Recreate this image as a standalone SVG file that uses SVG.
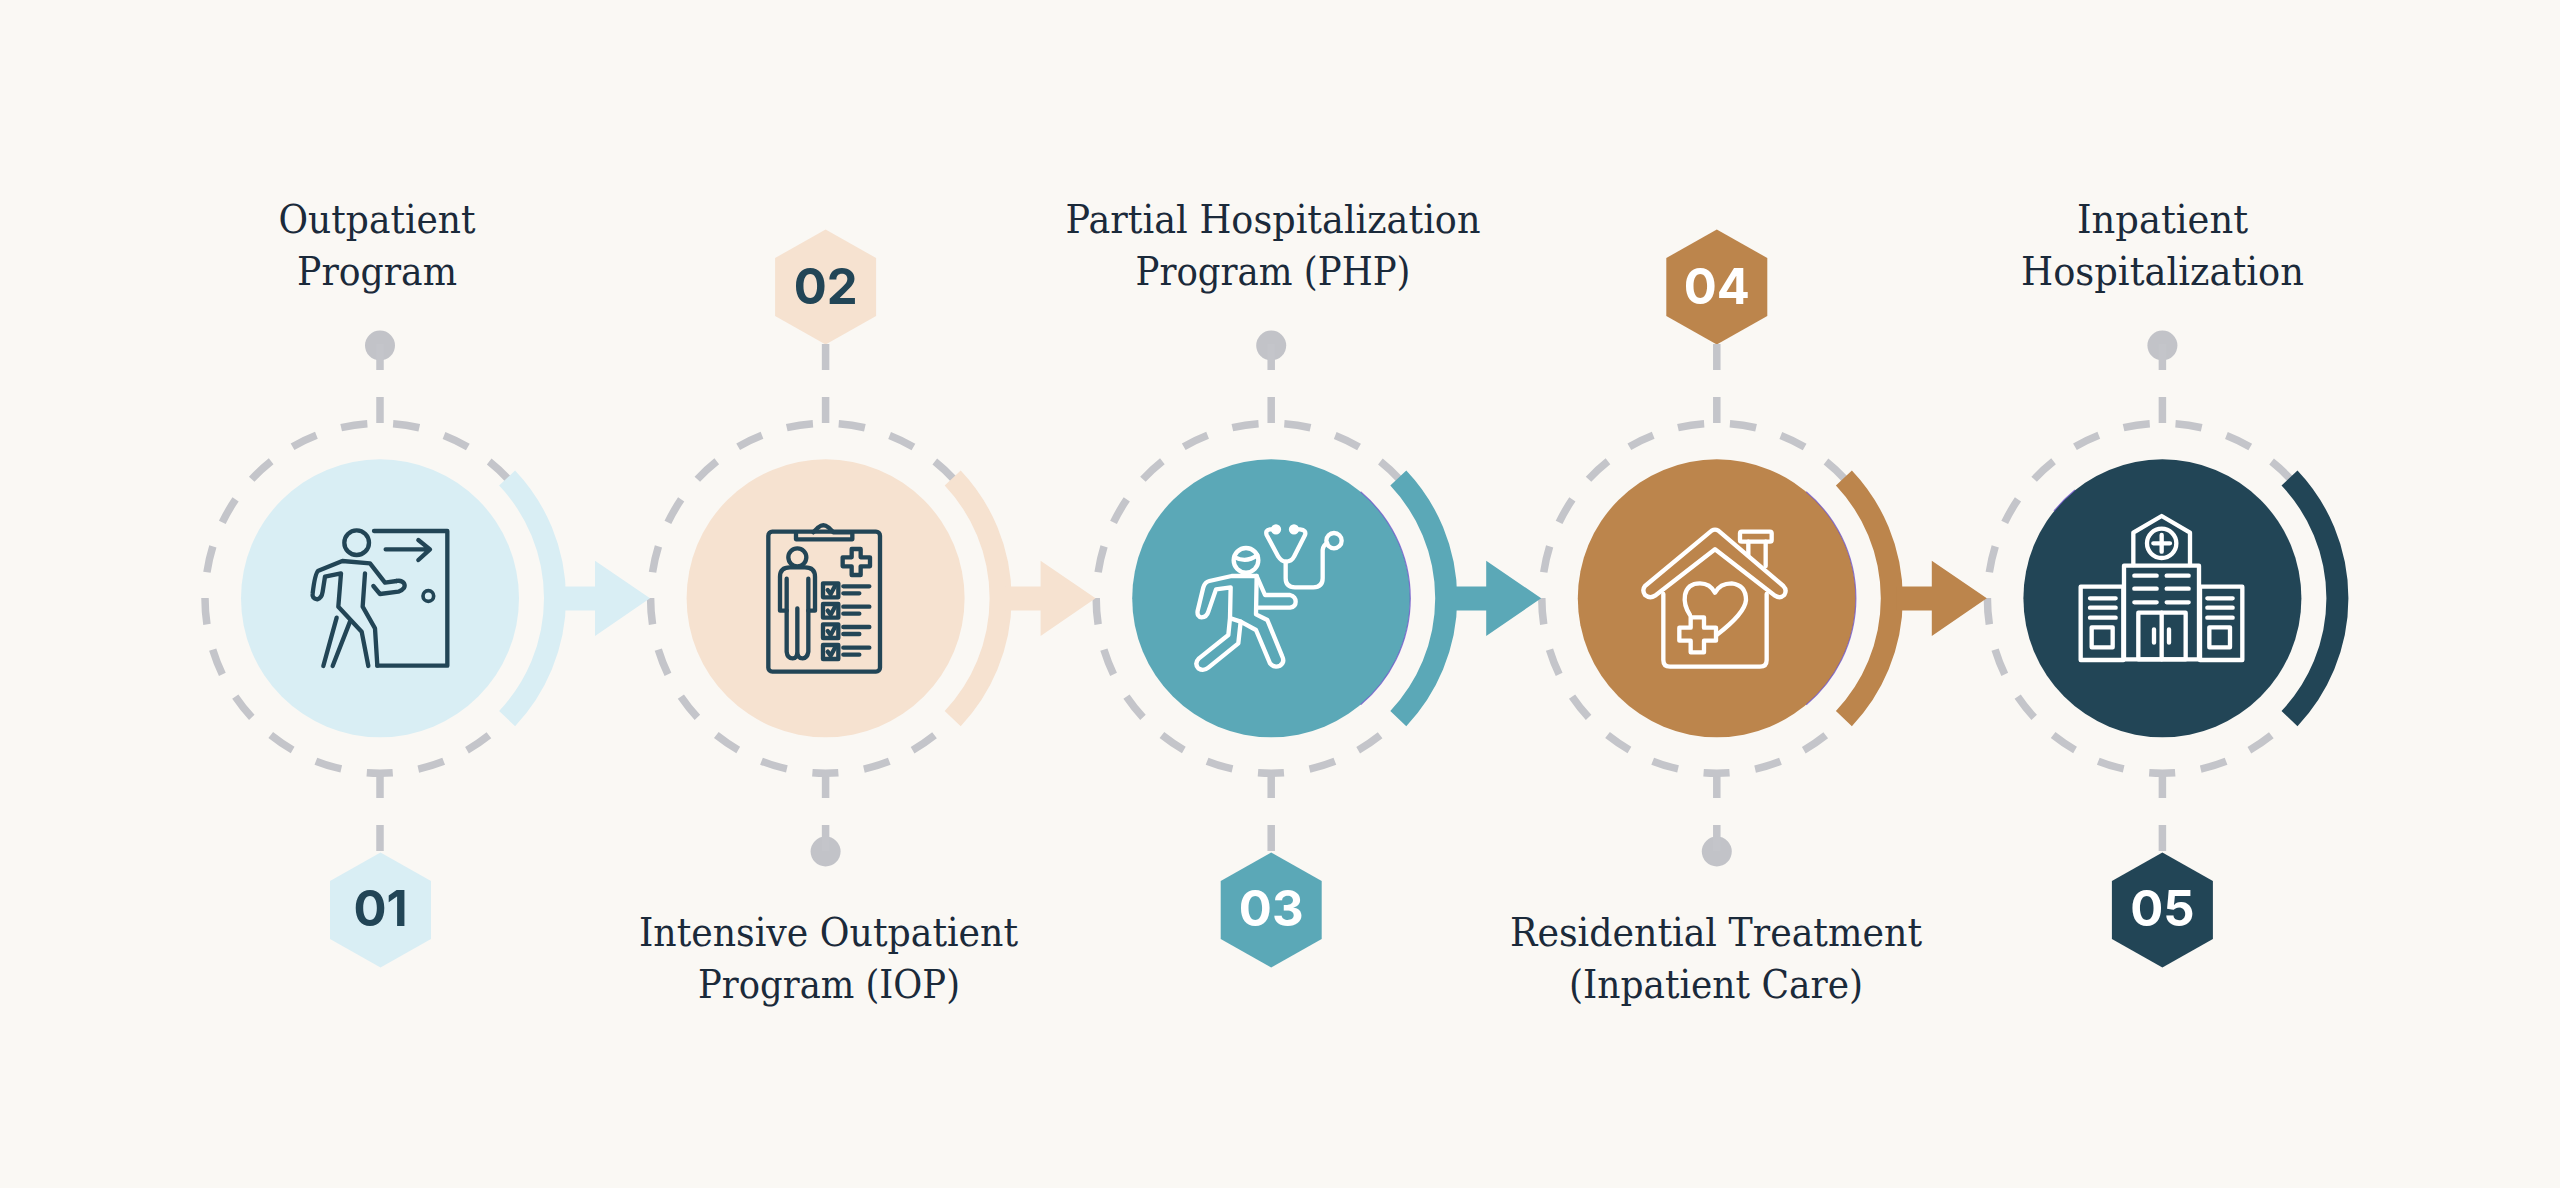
<svg xmlns="http://www.w3.org/2000/svg" width="2560" height="1188" viewBox="0 0 2560 1188">
<style>
.ring{fill:none;stroke:#C4C5CA;stroke-width:7.5;stroke-dasharray:26.5 25.86;stroke-dashoffset:13.25}
.stick{fill:none;stroke:#C4C5CA;stroke-width:7.5;stroke-dasharray:26 27}
.dot{fill:#C2C3C8}
.arc{fill:none;stroke-width:22}
.lbl{font-family:"DejaVu Serif","Liberation Serif",serif;font-size:39px;fill:#1B2A3A;text-anchor:middle}
.num{font-family:Inter,"Liberation Sans",sans-serif;font-weight:700;font-size:49px;text-anchor:middle}
.ic{fill:none;stroke-width:13;stroke-linecap:round;stroke-linejoin:round}
.dark{stroke:#224556}.light{stroke:#FFFFFF}
.edge{fill:none;stroke:#6A4FC8;stroke-width:1.2;opacity:.75}
</style>
<defs>
<circle id="ringc" class="ring" r="175" transform="rotate(90)"/>
<polygon id="hex" points="0,-57.5 50.5,-29 50.5,29 0,57.5 -50.5,29 -50.5,-29"/>
</defs>
<rect width="2560" height="1188" fill="#FAF8F4"/>

<g id="node1">
<use href="#ringc" transform="translate(380,598.3)"/>
<circle cx="380" cy="598.3" r="139" fill="#D9EEF4"/>
<path class="arc" stroke="#D9EEF4" d="M507.1 478 A175 175 0 0 1 507.1 718.6"/>
<circle class="dot" cx="380" cy="345.5" r="15"/>
<use href="#hex" fill="#D9EEF4" transform="translate(380.5,910)"/>
<text class="num" x="380.5" y="926" fill="#224556">01</text>
<text class="lbl" x="377" y="233" textLength="197" lengthAdjust="spacingAndGlyphs">Outpatient</text>
<text class="lbl" x="377" y="285" textLength="160" lengthAdjust="spacingAndGlyphs">Program</text>
<g transform="translate(180,180) scale(.33333)" class="ic dark">
<path d="M582 1053H802V1457H592"/>
<path d="M617 1108H748M715 1080L750 1108L715 1140"/>
<circle cx="530" cy="1088" r="37"/>
<circle cx="745" cy="1248" r="16" stroke-width="11"/>
<path d="M555 1180L548 1280L585 1345L592 1457"/>
<path d="M650 1203L615 1208L570 1150L487 1143L415 1172Q405 1180 398 1240Q395 1255 412 1258Q425 1255 428 1235L435 1190L483 1180L475 1280L545 1355L565 1458"/>
<path d="M580 1218L600 1242L655 1235Q680 1225 672 1210Q665 1200 650 1203"/>
<path d="M510 1325L458 1458M470 1313L430 1458"/>
</g>
</g>

<g id="node2">
<use href="#ringc" transform="translate(825.6,598.3)"/>
<circle cx="825.6" cy="598.3" r="139" fill="#F6E2D0"/>
<path class="arc" stroke="#F6E2D0" d="M952.7 478 A175 175 0 0 1 952.7 718.6"/>
<use href="#hex" fill="#F6E2D0" transform="translate(825.6,287)"/>
<text class="num" x="825.6" y="304" fill="#224556">02</text>
<circle class="dot" cx="825.6" cy="851.5" r="15"/>
<text class="lbl" x="828.5" y="946" textLength="379" lengthAdjust="spacingAndGlyphs">Intensive Outpatient</text>
<text class="lbl" x="829" y="998" textLength="262" lengthAdjust="spacingAndGlyphs">Program (IOP)</text>
<g transform="translate(700,480) scale(.33333)" class="ic dark">
<rect x="205" y="155" width="335" height="420" rx="12"/>
<path d="M288 157V178H457V157H400L385 142Q370 130 355 142L340 157"/>
<circle cx="292" cy="232" r="27"/>
<path d="M260 296V392H240V290Q240 262 270 262H315Q345 262 345 290V392H325V296"/>
<path d="M260 392V515Q262 535 278 535Q292 535 292 515V385M325 392V515Q322 535 308 535Q292 535 292 515"/>
<path d="M455 207H482V232H510V259H482V285H455V259H428V232H455Z"/>
<rect x="369" y="310" width="46" height="42"/><rect x="369" y="372" width="46" height="41"/><rect x="369" y="433" width="46" height="41"/><rect x="369" y="495" width="46" height="42"/>
<path d="M383 330L392 342L405 318M383 392L392 404L405 380M383 453L392 465L405 441M383 515L392 527L405 503"/>
<path d="M430 319H508M430 340H478M430 380H508M430 401H478M430 441H508M430 462H478M430 503H508M430 524H478"/>
</g>
</g>

<g id="node3">
<use href="#ringc" transform="translate(1271.2,598.3)"/>
<circle cx="1271.2" cy="598.3" r="139" fill="#5BA8B7"/>
<path class="edge" d="M1360.6 491.8A139 139 0 0 1 1360.6 704.8"/>
<path class="arc" stroke="#5BA8B7" d="M1398.3 478 A175 175 0 0 1 1398.3 718.6"/>
<circle class="dot" cx="1271.2" cy="345.5" r="15"/>
<use href="#hex" fill="#5BA8B7" transform="translate(1271.2,910)"/>
<text class="num" x="1271.2" y="926" fill="#FFFFFF">03</text>
<text class="lbl" x="1273" y="233" textLength="415" lengthAdjust="spacingAndGlyphs">Partial Hospitalization</text>
<text class="lbl" x="1273" y="285" textLength="275" lengthAdjust="spacingAndGlyphs">Program (PHP)</text>
<g transform="translate(1150,500) scale(.33333)" class="ic light">
<circle cx="288" cy="181" r="37"/>
<path d="M255 172Q290 190 322 165"/>
<circle cx="378" cy="88" r="9" fill="#FFF"/><circle cx="432" cy="88" r="9" fill="#FFF"/>
<path d="M370 88H360Q345 90 350 105L385 170Q395 185 407 185Q425 185 432 170L465 105Q470 90 450 88H440"/>
<path d="M407 185V235Q407 262 435 262H490Q518 262 518 235V150Q520 135 532 130"/>
<circle cx="552" cy="122" r="23"/>
<path d="M320 228L245 228L178 243Q165 246 160 262L143 332Q140 350 155 352Q170 352 175 335L198 268L242 262L240 355L235 405L147 475Q132 490 145 505Q160 515 175 503L265 430L272 365L318 390L360 490Q372 505 390 497Q405 487 397 470L352 360L318 343L320 228Z"/>
<path d="M320 228L345 285H420Q437 290 437 305Q437 320 420 323H325M242 355L272 365"/>
</g>
</g>

<g id="node4">
<use href="#ringc" transform="translate(1716.8,598.3)"/>
<circle cx="1716.8" cy="598.3" r="139" fill="#BC854C"/>
<path class="edge" d="M1806.2 491.8A139 139 0 0 1 1806.2 704.8"/>
<path class="arc" stroke="#BC854C" d="M1843.9 478 A175 175 0 0 1 1843.9 718.6"/>
<use href="#hex" fill="#BC854C" transform="translate(1716.8,287)"/>
<text class="num" x="1716.8" y="304" fill="#FFFFFF">04</text>
<circle class="dot" cx="1716.8" cy="851.5" r="15"/>
<text class="lbl" x="1716" y="946" textLength="412" lengthAdjust="spacingAndGlyphs">Residential Treatment</text>
<text class="lbl" x="1716" y="998" textLength="294" lengthAdjust="spacingAndGlyphs">(Inpatient Care)</text>
<g transform="translate(1600,500) scale(.33333)" class="ic light">
<path d="M335 92L135 258Q125 270 135 285Q150 297 165 287L345 148L525 287Q540 297 553 285Q562 270 550 258L355 92Q345 86 335 92Z"/>
<path d="M190 282V480Q190 500 210 500H480Q500 500 500 480V282"/>
<rect x="420" y="95" width="95" height="30" rx="5"/>
<path d="M445 125V165M497 125V198"/>
<path d="M270 345Q250 315 255 285Q262 250 300 250Q330 250 345 278Q360 250 395 250Q438 255 438 300Q435 340 350 405"/>
<path d="M272 352H312V383H348V422H312V457H272V422H238V383H272Z"/>
</g>
</g>

<g id="node5">
<use href="#ringc" transform="translate(2162.4,598.3)"/>
<circle cx="2162.4" cy="598.3" r="139" fill="#224556"/>
<path class="edge" d="M2054 511A139 139 0 0 1 2075 490"/>
<path class="arc" stroke="#224556" d="M2289.5 478 A175 175 0 0 1 2289.5 718.6"/>
<circle class="dot" cx="2162.4" cy="345.5" r="15"/>
<use href="#hex" fill="#224556" transform="translate(2162.4,910)"/>
<text class="num" x="2162.4" y="926" fill="#FFFFFF">05</text>
<text class="lbl" x="2162.5" y="233" textLength="171" lengthAdjust="spacingAndGlyphs">Inpatient</text>
<text class="lbl" x="2162.5" y="285" textLength="283" lengthAdjust="spacingAndGlyphs">Hospitalization</text>
<g transform="translate(2040,490) scale(.33333)" class="ic light" stroke-linecap="butt">
<rect x="122" y="290" width="128" height="220"/><rect x="480" y="290" width="127" height="220"/>
<rect x="252" y="227" width="225" height="281"/>
<path d="M280 225V128L365 78L450 128V225"/>
<circle cx="365" cy="160" r="44"/>
<path d="M340 160H390M365 135V185"/>
<path d="M283 257H350M380 257H446M283 296H350M380 296H446M283 337H350M380 337H446"/>
<rect x="295" y="368" width="142" height="140"/>
<path d="M365 368V508M342 418V458M387 418V458"/>
<path d="M150 325H227M150 353H227M150 383H227M502 325H578M502 353H578M502 383H578"/>
<rect x="155" y="412" width="63" height="60"/><rect x="508" y="412" width="62" height="60"/>
</g>
</g>

<g id="connectors">
<g class="stick">
<path d="M380 344V423M380 772V852"/>
<path d="M825.6 344V423M825.6 772V852"/>
<path d="M1271.2 344V423M1271.2 772V852"/>
<path d="M1716.8 344V423M1716.8 772V852"/>
<path d="M2162.4 344V423M2162.4 772V852"/>
</g>
<path fill="#D9EEF4" d="M560 586.5H595V560.7L650 598.3L595 636V610.5H560Z"/>
<path fill="#F6E2D0" d="M1005.6 586.5H1040.6V560.7L1095.6 598.3L1040.6 636V610.5H1005.6Z"/>
<path fill="#5BA8B7" d="M1451.2 586.5H1486.2V560.7L1541.2 598.3L1486.2 636V610.5H1451.2Z"/>
<path fill="#BC854C" d="M1896.8 586.5H1931.8V560.7L1986.8 598.3L1931.8 636V610.5H1896.8Z"/>
</g>
</svg>
